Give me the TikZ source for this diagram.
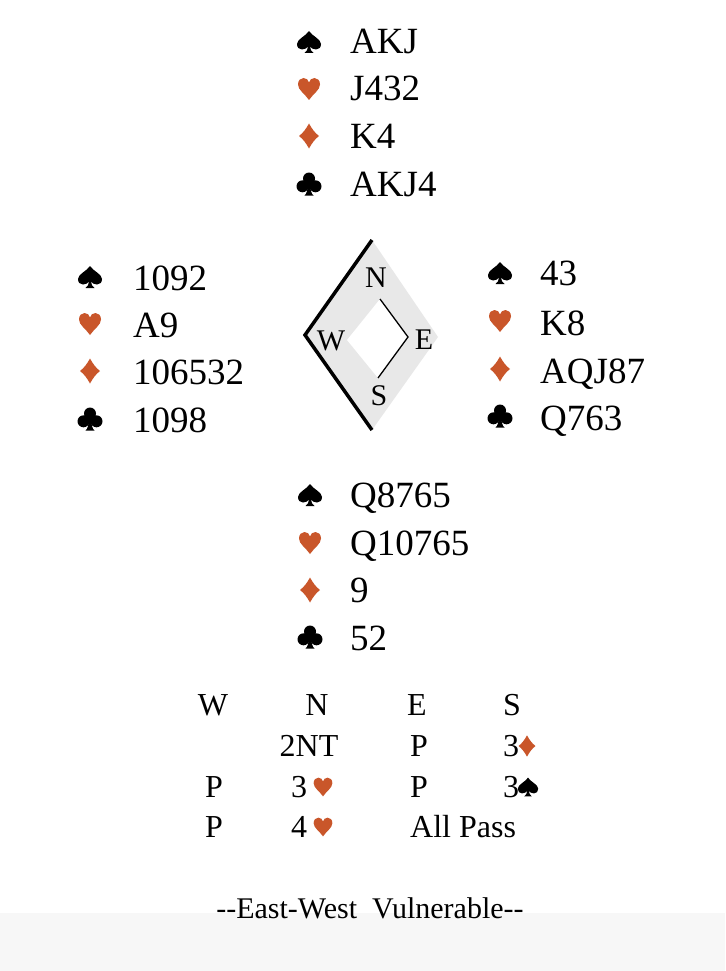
\documentclass[tikz,border=0pt]{standalone}
\usepackage{fontspec}
\setmainfont{Liberation Serif}
\definecolor{suitred}{RGB}{201,86,42}
\definecolor{bandgray}{RGB}{247,247,247}
\definecolor{compgray}{RGB}{232,232,232}
\tikzset{
  heartP/.pic={\fill[suitred] (0,11) .. controls (-4,5) and (-11,1) .. (-11,-4.5)
      .. controls (-11,-8.5) and (-8.5,-11) .. (-5.5,-11)
      .. controls (-2.5,-11) and (-0.6,-9) .. (0,-6.5)
      .. controls (0.6,-9) and (2.5,-11) .. (5.5,-11)
      .. controls (8.5,-11) and (11,-8.5) .. (11,-4.5)
      .. controls (11,1) and (4,5) .. (0,11) -- cycle;},
  spadeP/.pic={\fill[black] (0,-11) .. controls (-3,-6) and (-12,-3) .. (-12,2)
      .. controls (-12,5.5) and (-10,7.5) .. (-7,7.5)
      .. controls (-4,7.5) and (-2,6) .. (-1,4.5)
      .. controls (-1.2,7.5) and (-2.5,10) .. (-4.5,11) -- (4.5,11)
      .. controls (2.5,10) and (1.2,7.5) .. (1,4.5)
      .. controls (2,6) and (4,7.5) .. (7,7.5)
      .. controls (10,7.5) and (12,5.5) .. (12,2)
      .. controls (12,-3) and (3,-6) .. (0,-11) -- cycle;},
  diamondP/.pic={\fill[suitred] (0,-12.5) .. controls (3,-7) and (6,-3) .. (10,0)
      .. controls (6,3) and (3,7) .. (0,12.5)
      .. controls (-3,7) and (-6,3) .. (-10,0)
      .. controls (-6,-3) and (-3,-7) .. (0,-12.5) -- cycle;},
  clubP/.pic={\fill[black] (0,-5.5) circle[radius=6] (-6.5,2.3) circle[radius=6] (6.5,2.3) circle[radius=6];
      \fill[black] (-1.2,0) .. controls (-1.2,6) and (-2.5,10) .. (-4.5,11.5) -- (4.5,11.5)
      .. controls (2.5,10) and (1.2,6) .. (1.2,0) -- cycle;}
}
\begin{document}
\begin{tikzpicture}[x=1pt,y=-1pt,
  card/.style={anchor=base west,inner sep=0pt,font=\fontsize{37}{37}\selectfont},
  bid/.style={anchor=base,inner sep=0pt,font=\fontsize{32}{32}\selectfont},
  bidsuit/.style={scale=0.85},
  compass/.style={inner sep=0pt,font=\fontsize{30}{30}\selectfont}]
\useasboundingbox (0,0) rectangle (725,971);
\fill[white] (0,0) rectangle (725,971);
\fill[bandgray] (0,913) rectangle (725,971);
% North
\pic (ns) at (309,42) {spadeP};   \node[card] (nsT) at (350,54) {AKJ};
\pic (nh) at (309,89) {heartP};   \node[card] (nhT) at (350,101) {J432};
\pic (nd) at (309,136) {diamondP}; \node[card] (ndT) at (350,148) {K4};
\pic (nc) at (309,184) {clubP};   \node[card] (ncT) at (350,196) {AKJ4};
% West
\pic (ws) at (90,277) {spadeP};   \node[card] (wsT) at (133,290) {1092};
\pic (wh) at (90,324) {heartP};   \node[card] (whT) at (133,337) {A9};
\pic (wd) at (90,371) {diamondP}; \node[card] (wdT) at (133,384) {106532};
\pic (wc) at (90,419) {clubP};    \node[card] (wcT) at (133,432) {1098};
% East
\pic (es) at (500,273) {spadeP};   \node[card] (esT) at (540,285) {43};
\pic (eh) at (500,321) {heartP};   \node[card] (ehT) at (540,335) {K8};
\pic (ed) at (500,369) {diamondP}; \node[card] (edT) at (540,383) {AQJ87};
\pic (ec) at (500,416) {clubP};    \node[card] (ecT) at (540,430) {Q763};
% South
\pic (ss) at (310,495) {spadeP};   \node[card] (ssT) at (350,507) {Q8765};
\pic (sh) at (310,543) {heartP};   \node[card] (shT) at (350,555) {Q10765};
\pic (sd) at (310,590) {diamondP}; \node[card] (sdT) at (350,602) {9};
\pic (sc) at (310,637) {clubP};    \node[card] (scT) at (350,650) {52};
% Compass
\fill[compgray] (372,240) -- (438,337) -- (372,430) -- (305,335) -- cycle;
\fill[white] (380,299) -- (408,337) -- (378,378) -- (347,340) -- cycle;
\draw[line width=3.5pt] (372,240) -- (305,335) -- (372,430);
\draw[line width=1.3pt] (380,299) -- (408,337) -- (378,378);
\node[compass] (cN) at (376,278) {N};
\node[compass] (cW) at (331,341) {W};
\node[compass] (cE) at (424,340) {E};
\node[compass] (cS) at (379,396) {S};
% Bidding
\node[bid] (bW) at (213,715) {W};
\node[bid] (bN) at (317,715) {N};
\node[bid,anchor=base west] (bE) at (407,715) {E};
\node[bid] (bS) at (512,715) {S};
\node[bid] (b2) at (309,756) {2NT};
\node[bid,anchor=base west] (b3) at (410,756) {P};
\node[bid,anchor=base west] (b4) at (503,756) {3};
\pic[bidsuit] (b4s) at (527,746) {diamondP};
\node[bid] (b5) at (214,797) {P};
\node[bid,anchor=base west] (b6) at (291,797) {3};
\pic[bidsuit] (b6s) at (323,787) {heartP};
\node[bid,anchor=base west] (b7) at (410,797) {P};
\node[bid,anchor=base west] (b8) at (503,797) {3};
\pic[bidsuit] (b8s) at (528,787) {spadeP};
\node[bid] (b9) at (214,837) {P};
\node[bid,anchor=base west] (b10) at (291,837) {4};
\pic[bidsuit] (b10s) at (323,827) {heartP};
\node[bid,anchor=base west] (b11) at (410,837) {All Pass};
% Vulnerability
\node[anchor=base,inner sep=0pt,font=\fontsize{30}{30}\selectfont] (vul) at (370,918) {-{}-East-West\ \ Vulnerable-{}-};
\end{tikzpicture}
\end{document}
